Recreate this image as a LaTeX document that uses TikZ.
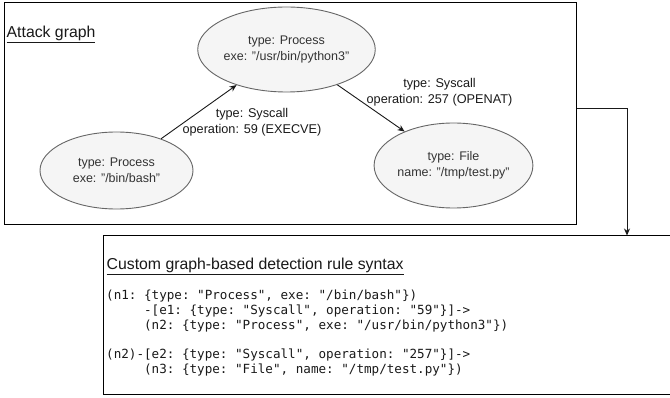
\documentclass[tikz,border=0pt]{standalone}
\usepackage{fontspec}
\setmainfont{Liberation Sans}
\setmonofont{DejaVu Sans Mono}
\usetikzlibrary{shapes.geometric,arrows.meta}
\definecolor{ellfill}{HTML}{F5F5F5}
\definecolor{ellline}{HTML}{666666}
\definecolor{elltext}{HTML}{333333}
\definecolor{edgetext}{HTML}{1A1A1A}
\begin{document}
\begin{tikzpicture}[x=1pt,y=-1pt,
  frame/.style={draw=black, line width=1pt, inner sep=0pt, fill=none},
  entity/.style={ellipse, draw=ellline, fill=ellfill, line width=0.9pt, inner sep=0pt,
    align=center, text=elltext, font=\fontsize{12.5}{15.5}\selectfont},
  edgelabel/.style={align=center, inner sep=0pt, text=edgetext, font=\fontsize{12.7}{16}\selectfont},
  edge/.style={draw=black!90, line width=0.9pt, -{Stealth[length=7pt,width=6pt]}},
  title/.style={anchor=base west, inner sep=0pt, text=black!90, font=\fontsize{15.8}{19}\selectfont},
  code/.style={anchor=north west, inner sep=0pt, align=left, text=black!90, font=\ttfamily\fontsize{12.6}{15.3}\selectfont}
]
\useasboundingbox (0,0) rectangle (670,398);
\clip (0,0) rectangle (670,398);
\fill[white] (0,0) rectangle (670,398);

% frames
\node[frame, minimum width=572pt, minimum height=221.5pt] (attack) at (290.5,113.75) {};
\node[frame, minimum width=586.5pt, minimum height=158.5pt] (rule) at (396.75,315.25) {};

% titles
\node[title] (t1) at (6.5,38) {\underline{Attack graph}};
\node[title] (t2) at (106.5,270) {\underline{Custom graph-based detection rule syntax}};

% entities
\node[entity, minimum width=153pt, minimum height=85pt] (py) at (286.5,49.5)
  {type: Process\\exe: "/usr/bin/python3"};
\node[entity, minimum width=153pt, minimum height=77pt] (bash) at (116.5,170.5)
  {type: Process\\exe: "/bin/bash"};
\node[entity, minimum width=151pt, minimum height=85pt] (file) at (453.5,165.5)
  {type: File\\name: "/tmp/test.py"};

% edges
\draw[edge] (bash) -- (py);
\draw[edge] (py) -- (file);
\node[edgelabel] (l1) at (252,122.5) {type: Syscall\\operation: 59 (EXECVE)};
\node[edgelabel] (l2) at (439.5,92.5) {type: Syscall\\operation: 257 (OPENAT)};

% connector between frames
\coordinate (bend) at (627,108);
\draw[edge] (attack.east |- bend) -- (bend) -- (bend |- rule.north);

% code
\node[code] (codeblock) at (106,289.5) {%
(n1: \{type: "Process", exe: "/bin/bash"\})\\
~~~~~-[e1: \{type: "Syscall", operation: "59"\}]->\\
~~~~~(n2: \{type: "Process", exe: "/usr/bin/python3"\})\\[13pt]
(n2)-[e2: \{type: "Syscall", operation: "257"\}]->\\
~~~~~(n3: \{type: "File", name: "/tmp/test.py"\})};
\end{tikzpicture}
\end{document}
